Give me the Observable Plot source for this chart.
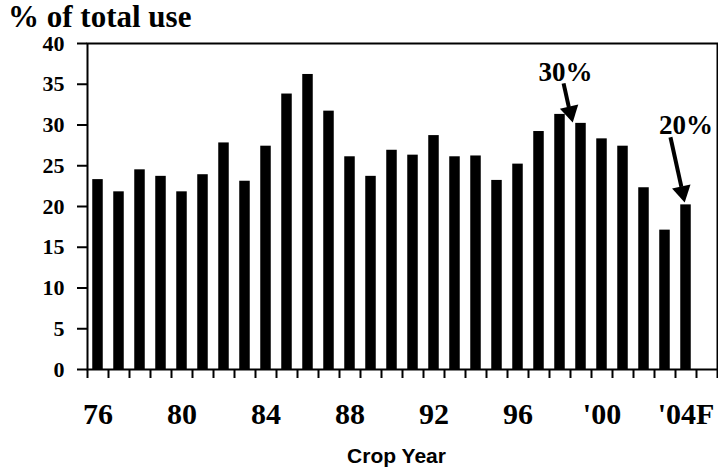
<!DOCTYPE html>
<html>
<head>
<meta charset="utf-8">
<script src="https://cdn.jsdelivr.net/npm/d3@7"></script>
<script src="https://cdn.jsdelivr.net/npm/@observablehq/plot@0.6"></script>
<style>
  html, body { margin: 0; padding: 0; background: #fff; }
  #title { font: bold 31px "Liberation Serif", "Times New Roman", serif; height: 35px; line-height: 31px; padding-left: 8px; color: #000; white-space: nowrap; overflow: visible; }
  #title span { display: inline-block; line-height: 29px; margin-top: 2px; }
  #chart svg { display: block; }
</style>
</head>
<body>
<div id="title"><span>% of total use</span></div>
<div id="chart"></div>
<script>
// Crop years (1976 .. 2004F)
const years = [1976, 1977, 1978, 1979, 1980, 1981, 1982, 1983, 1984, 1985,
               1986, 1987, 1988, 1989, 1990, 1991, 1992, 1993, 1994, 1995,
               1996, 1997, 1998, 1999, 2000, 2001, 2002, 2003, 2004];
// % of total use
const shares = [23.3, 21.8, 24.5, 23.7, 21.8, 23.9, 27.8, 23.1, 27.4, 33.8,
                36.2, 31.7, 26.1, 23.7, 26.9, 26.3, 28.7, 26.1, 26.2, 23.2,
                25.2, 29.2, 31.3, 30.2, 28.3, 27.4, 22.3, 17.1, 20.2];
// x tick labels
const labelYears = [1976, 1980, 1984, 1988, 1992, 1996, 2000, 2004];
const labelTexts = ["76", "80", "84", "88", "92", "96", "'00", "'04F"];
// y ticks
const yTicks = [0, 5, 10, 15, 20, 25, 30, 35, 40];
// annotations (text anchor, arrow from/to and arrow-head position in data units)
const noteText = ["30%", "20%"];
const noteX = [1998.26, 2004.0];
const noteY = [36.5, 30.0];
const arrowX1 = [1998.17, 2003.26];
const arrowY1 = [35.1, 28.5];
const arrowX2 = [1998.42, 2003.78];
const arrowY2 = [32.2, 22.4];
const headX = [1998.49, 2003.83];
const headY = [31.6, 21.8];
const headRotate = [167, 168];

const bars = years.map((y, i) => ({year: y, value: shares[i]}));
const boundaries = d3.range(years[0] - 0.5, years[years.length - 1] + 2, 1);
const notes = noteText.map((t, i) => ({t, x: noteX[i], y: noteY[i]}));
const arrows = arrowX1.map((x, i) => ({x1: x, y1: arrowY1[i], x2: arrowX2[i], y2: arrowY2[i]}));
const heads = headX.map((x, i) => ({x, y: headY[i], r: headRotate[i]}));

const serif = "'Liberation Serif', 'Times New Roman', serif";

const chart = Plot.plot({
  width: 718,
  height: 437,
  marginLeft: 87,
  marginRight: 1,
  marginTop: 8,
  marginBottom: 103,
  style: {fontFamily: serif, fontWeight: "bold", color: "#000", background: "#fff", overflow: "visible"},
  x: {domain: [years[0] - 0.5, years[years.length - 1] + 1.5]},
  y: {domain: [0, 40]},
  marks: [
    Plot.rectY(bars, {x1: d => d.year - 0.25, x2: d => d.year + 0.25, y: "value", fill: "#000"}),
    Plot.frame({stroke: "#000", strokeWidth: 2}),
    Plot.axisY({ticks: yTicks, tickSize: 10, tickPadding: 13, fontSize: 22, fontFamily: serif, fontWeight: "bold", strokeWidth: 2, label: null}),
    Plot.axisX({ticks: boundaries, tickFormat: () => "", tickSize: 9, strokeWidth: 2, label: null}),
    Plot.axisX({ticks: labelYears, tickFormat: d => labelTexts[labelYears.indexOf(d)], tickSize: 0, tickPadding: 33, fontSize: 30, fontFamily: serif, fontWeight: "bold", label: null}),
    Plot.text(["Crop Year"], {frameAnchor: "bottom", dx: -6, dy: 93, fontFamily: "'Liberation Sans', Arial, sans-serif", fontWeight: "bold", fontSize: 21, fill: "#000"}),
    Plot.text(notes, {x: "x", y: "y", text: "t", fontSize: 27, fontFamily: serif, fontWeight: "bold", fill: "#000"}),
    Plot.link(arrows, {x1: "x1", y1: "y1", x2: "x2", y2: "y2", stroke: "#000", strokeWidth: 4}),
    Plot.dot(heads, {x: "x", y: "y", rotate: "r", symbol: "triangle", r: 7, fill: "#000", stroke: "none"})
  ]
});
document.getElementById("chart").appendChild(chart);
</script>
</body>
</html>
